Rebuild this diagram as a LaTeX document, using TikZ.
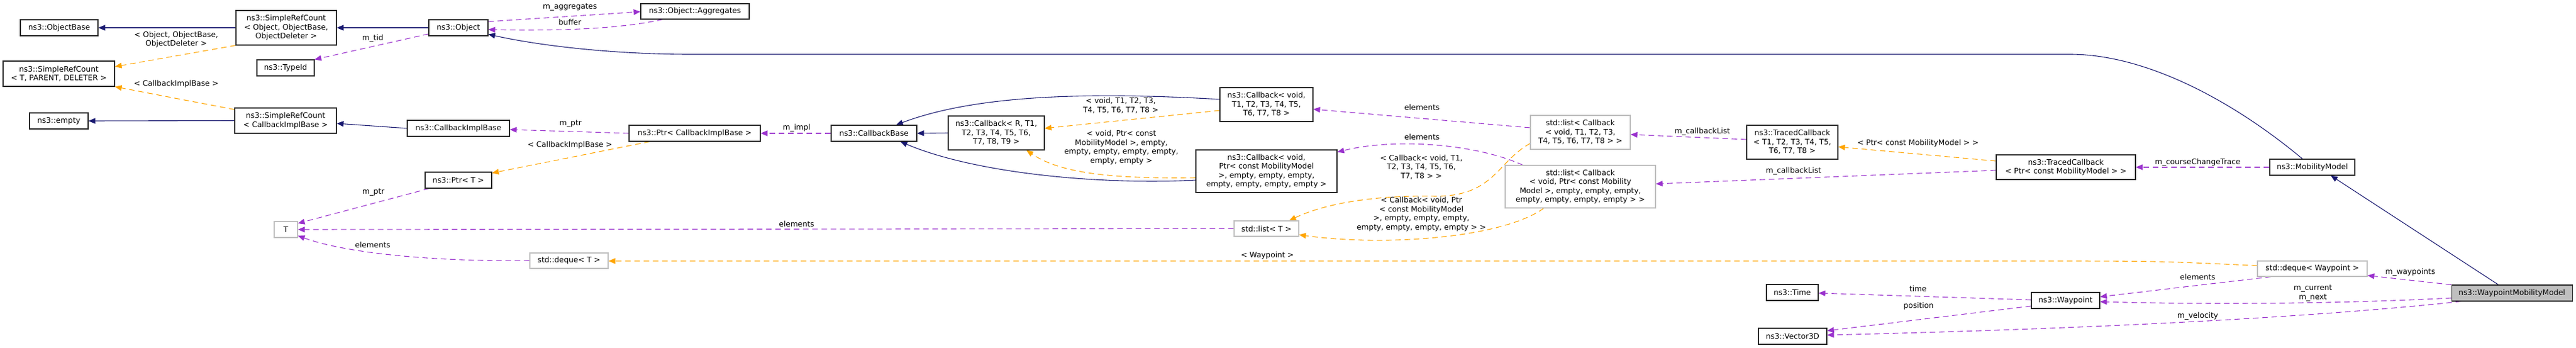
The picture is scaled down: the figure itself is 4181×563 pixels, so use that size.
\documentclass[tikz,border=0pt]{standalone}
\usepackage{fontspec}
\setmainfont{DejaVu Sans}
\usetikzlibrary{arrows.meta,calc,backgrounds}
\definecolor{navy}{HTML}{191970}
\definecolor{orchid}{HTML}{9A32CD}
\definecolor{tmpl}{HTML}{FFA500}
\definecolor{greyA}{HTML}{BFBFBF}
\begin{document}
\begin{tikzpicture}[x=1pt,y=-1pt,
  font=\fontsize{12.3}{14.5}\selectfont,
  cls/.style={draw=black!85, line width=1.1pt, fill=white, inner sep=0pt, align=center},
  ext/.style={draw=greyA, line width=1.1pt, fill=white, inner sep=0pt, align=center},
  cur/.style={draw=black!85, line width=1.1pt, fill=greyA, inner sep=0pt, align=center},
  tip/.style={-{Triangle[length=11pt,width=9pt]}},
  inh/.style={draw=navy, line width=1.1pt, tip},
  usep/.style={draw=orchid, line width=1.1pt, dash pattern=on 9pt off 6pt, tip},
  tplp/.style={draw=tmpl, line width=1.1pt, dash pattern=on 9pt off 6pt, tip},
  lbl/.style={inner sep=0pt, align=center}]
\useasboundingbox (0,0) rectangle (4181,563);

% nodes
\node[cls, minimum width=126pt, minimum height=26pt] (objbase) at (96,45) {ns3::ObjectBase};
\node[cls, minimum width=163pt, minimum height=56pt] (srcobj) at (464.5,45) {ns3::SimpleRefCount\\< Object, ObjectBase,\\ObjectDeleter >};
\node[cls, minimum width=181pt, minimum height=41pt] (srct) at (95.5,119.5) {ns3::SimpleRefCount\\< T, PARENT, DELETER >};
\node[cls, minimum width=93pt, minimum height=26pt] (typeid) at (463.5,110) {ns3::TypeId};
\node[cls, minimum width=95pt, minimum height=26pt] (empty) at (95.5,196) {ns3::empty};
\node[cls, minimum width=165pt, minimum height=41pt] (srccib) at (463.5,195.5) {ns3::SimpleRefCount\\< CallbackImplBase >};
\node[cls, minimum width=96pt, minimum height=26pt] (object) at (744,45) {ns3::Object};
\node[cls, minimum width=176pt, minimum height=25pt] (aggr) at (1128,18.5) {ns3::Object::Aggregates};
\node[cls, minimum width=166pt, minimum height=26pt] (cib) at (744,208) {ns3::CallbackImplBase};
\node[cls, minimum width=213pt, minimum height=26pt] (ptrcib) at (1127.5,216) {ns3::Ptr< CallbackImplBase >};
\node[cls, minimum width=108pt, minimum height=26pt] (ptrt) at (744,292) {ns3::Ptr< T >};
\node[ext, minimum width=38pt, minimum height=26pt] (T) at (464,372) {T};
\node[ext, minimum width=127pt, minimum height=25pt] (dequeT) at (923.5,422.5) {std::deque< T >};
\node[cls, minimum width=139pt, minimum height=26pt] (cbbase) at (1418.5,216) {ns3::CallbackBase};
\node[cls, minimum width=156pt, minimum height=55pt] (cbR) at (1617,215.5) {ns3::Callback< R, T1,\\T2, T3, T4, T5, T6,\\T7, T8, T9 >};
\node[cls, minimum width=151pt, minimum height=55pt] (cbvoid) at (2055.5,169.5) {ns3::Callback< void,\\T1, T2, T3, T4, T5,\\T6, T7, T8 >};
\node[cls, minimum width=229pt, minimum height=69pt] (cbptr) at (2055.5,277.5) {ns3::Callback< void,\\Ptr< const MobilityModel\\>, empty, empty, empty,\\empty, empty, empty, empty >};
\node[ext, minimum width=105pt, minimum height=25pt] (listT) at (2055.5,370.5) {std::list< T >};
\node[ext, minimum width=162pt, minimum height=55pt] (listcbvoid) at (2565,214.5) {std::list< Callback\\< void, T1, T2, T3,\\T4, T5, T6, T7, T8 > >};
\node[ext, minimum width=244pt, minimum height=69pt] (listcbptr) at (2565,302.5) {std::list< Callback\\< void, Ptr< const Mobility\\Model >, empty, empty, empty,\\empty, empty, empty, empty > >};
\node[cls, minimum width=148pt, minimum height=55pt] (tcb) at (2909,230.5) {ns3::TracedCallback\\< T1, T2, T3, T4, T5,\\T6, T7, T8 >};
\node[cls, minimum width=226pt, minimum height=40pt] (tcbptr) at (3353,271) {ns3::TracedCallback\\< Ptr< const MobilityModel > >};
\node[cls, minimum width=138pt, minimum height=26pt] (mobility) at (3753,271) {ns3::MobilityModel};
\node[ext, minimum width=178pt, minimum height=25pt] (dequeWP) at (3753,435.5) {std::deque< Waypoint >};
\node[cur, minimum width=196pt, minimum height=26pt] (wmm) at (4077,475) {ns3::WaypointMobilityModel};
\node[cls, minimum width=84pt, minimum height=26pt] (time) at (2909,474) {ns3::Time};
\node[cls, minimum width=111pt, minimum height=26pt] (waypoint) at (3352.5,487) {ns3::Waypoint};
\node[cls, minimum width=111pt, minimum height=26pt] (vec) at (2909.5,545) {ns3::Vector3D};

% labels
\node[lbl] (l1) at (286,64) {< Object, ObjectBase,\\ObjectDeleter >};
\node[lbl] (l2) at (286,136) {< CallbackImplBase >};
\node[lbl] (l3) at (605,62) {m\_tid};
\node[lbl] (l4) at (925,12) {m\_aggregates};
\node[lbl] (l5) at (925,36) {buffer};
\node[lbl] (l6) at (926,201) {m\_ptr};
\node[lbl] (l7) at (925,235) {< CallbackImplBase >};
\node[lbl] (l8) at (1293,207) {m\_impl};
\node[lbl] (l9) at (606,312) {m\_ptr};
\node[lbl] (l10) at (605,397) {elements};
\node[lbl] (l11) at (1293,363) {elements};
\node[lbl] (l12) at (1819,171) {< void, T1, T2, T3,\\T4, T5, T6, T7, T8 >};
\node[lbl] (l13) at (1820,239) {< void, Ptr< const\\MobilityModel >, empty,\\empty, empty, empty, empty,\\empty, empty >};
\node[lbl] (l14) at (2308,174) {elements};
\node[lbl] (l15) at (2308,222) {elements};
\node[lbl] (l16) at (2307,271) {< Callback< void, T1,\\T2, T3, T4, T5, T6,\\T7, T8 > >};
\node[lbl] (l17) at (2307,347) {< Callback< void, Ptr\\< const MobilityModel\\>, empty, empty, empty,\\empty, empty, empty, empty > >};
\node[lbl] (l18) at (2057,414) {< Waypoint >};
\node[lbl] (l19) at (2763,213) {m\_callbackList};
\node[lbl] (l20) at (2911,277) {m\_callbackList};
\node[lbl] (l21) at (3113,232) {< Ptr< const MobilityModel > >};
\node[lbl] (l22) at (3567,263) {m\_courseChangeTrace};
\node[lbl] (l23) at (3912,441) {m\_waypoints};
\node[lbl] (l24) at (3567,449) {elements};
\node[lbl] (l25) at (3754,475) {m\_current\\m\_next};
\node[lbl] (l26) at (3567,512) {m\_velocity};
\node[lbl] (l27) at (3113,468) {time};
\node[lbl] (l28) at (3114,496) {position};

\begin{pgfonlayer}{background}
% inheritance (solid navy)
\draw[inh] (srcobj.west) -- (objbase.east);
\draw[inh] (object.west) -- (srcobj.east);
\draw[inh] (srccib.west) -- (empty.east);
\draw[inh] (cib.west) -- ($(srccib.east)+(0,4.5)$);
\draw[inh] (cbR.west) -- (cbbase.east);
\draw[inh] ($(cbvoid.west)+(0,-8.5)$) .. controls (1760,148) and (1580,155) .. ($(cbbase.north)+(36,0)$);
\draw[inh] ($(cbptr.west)+(0,14.5)$) .. controls (1780,300) and (1580,280) .. ($(cbbase.south)+(43,0)$);
\draw[inh] ($(mobility.north)+(-16,0)$) .. controls (3620,160) and (3480,88) .. (3360,88) -- (1120,88) .. controls (1000,88) and (880,75) .. ($(object.south east)+(0,-3)$);
\draw[inh] ($(wmm.north)+(-22,0)$) -- ($(mobility.south)+(30,0)$);

% template instances (dashed orange)
\draw[tplp] (srcobj.south west) -- ($(srct.east)+(0,-11.5)$);
\draw[tplp] ($(srccib.north west)+(0,3)$) -- (srct.south east);
\draw[tplp] ($(ptrcib.south west)+(34,0)$) -- ($(ptrt.north east)+(0,2)$);
\draw[tplp] ($(cbvoid.west)+(0,9.5)$) -- ($(cbR.east)+(0,-7.5)$);
\draw[tplp] ($(cbptr.west)+(0,10.5)$) .. controls (1800,290) and (1720,280) .. ($(cbR.south)+(49,0)$);
\draw[tplp] ($(listcbvoid.west)+(0,18)$) .. controls (2430,262) and (2425,318) .. (2330,318) .. controls (2230,316) and (2150,330) .. ($(listT.north)+(37,0)$);
\draw[tplp] ($(listcbptr.south west)+(63,0)$) .. controls (2440,385) and (2250,400) .. ($(listT.east)+(0,10)$);
\draw[tplp] ($(tcbptr.west)+(0,-10)$) -- ($(tcb.east)+(0,7.5)$);
\draw[tplp] ($(dequeWP.west)+(0,-5)$) .. controls (3500,423) .. (3300,423) -- ($(dequeT.east)+(0,0.5)$);

% usage (dashed purple)
\draw[usep] ($(object.west)+(0,10)$) -- (typeid.north east);
\draw[usep] ($(object.east)+(0,-10)$) -- ($(aggr.west)+(0,0.5)$);
\draw[usep] ($(aggr.south west)+(36,0)$) .. controls (1000,48) and (900,50) .. ($(object.east)+(0,3)$);
\draw[usep] (ptrcib.west) -- ($(cib.east)+(0,2)$);
\draw[usep] (cbbase.west) -- (ptrcib.east);
\draw[usep] ($(ptrt.south west)+(7,0)$) -- ($(T.east)+(0,-10)$);
\draw[usep] (listT.west) -- (T.east);
\draw[usep] (dequeT.west) .. controls (700,424) and (560,410) .. ($(T.east)+(0,10)$);
\draw[usep] ($(listcbvoid.west)+(0,-7.5)$) -- ($(cbvoid.east)+(0,7.5)$);
\draw[usep] ($(listcbptr.north west)+(29,0)$) .. controls (2400,235) and (2270,222) .. ($(cbptr.north east)+(0,4)$);
\draw[usep] ($(tcb.west)+(0,-4.5)$) -- ($(listcbvoid.east)+(0,3.5)$);
\draw[usep] ($(tcbptr.west)+(0,5)$) -- ($(listcbptr.east)+(0,-4.5)$);
\draw[usep] (mobility.west) -- (tcbptr.east);
\draw[usep] (wmm.north west) -- ($(dequeWP.east)+(0,11)$);
\draw[usep] ($(dequeWP.south)+(-67,0)$) -- ($(waypoint.east)+(0,-6)$);
\draw[usep] ($(wmm.west)+(0,8)$) .. controls (3800,492) and (3600,494) .. ($(waypoint.east)+(0,2)$);
\draw[usep] ($(wmm.south west)+(16,0)$) .. controls (3700,520) and (3300,535) .. ($(vec.east)+(0,-2)$);
\draw[usep] ($(waypoint.west)+(0,-1)$) -- ($(time.east)+(0,1)$);
\draw[usep] ($(waypoint.west)+(0,9)$) -- ($(vec.east)+(0,-9)$);
\end{pgfonlayer}
\end{tikzpicture}
\end{document}
